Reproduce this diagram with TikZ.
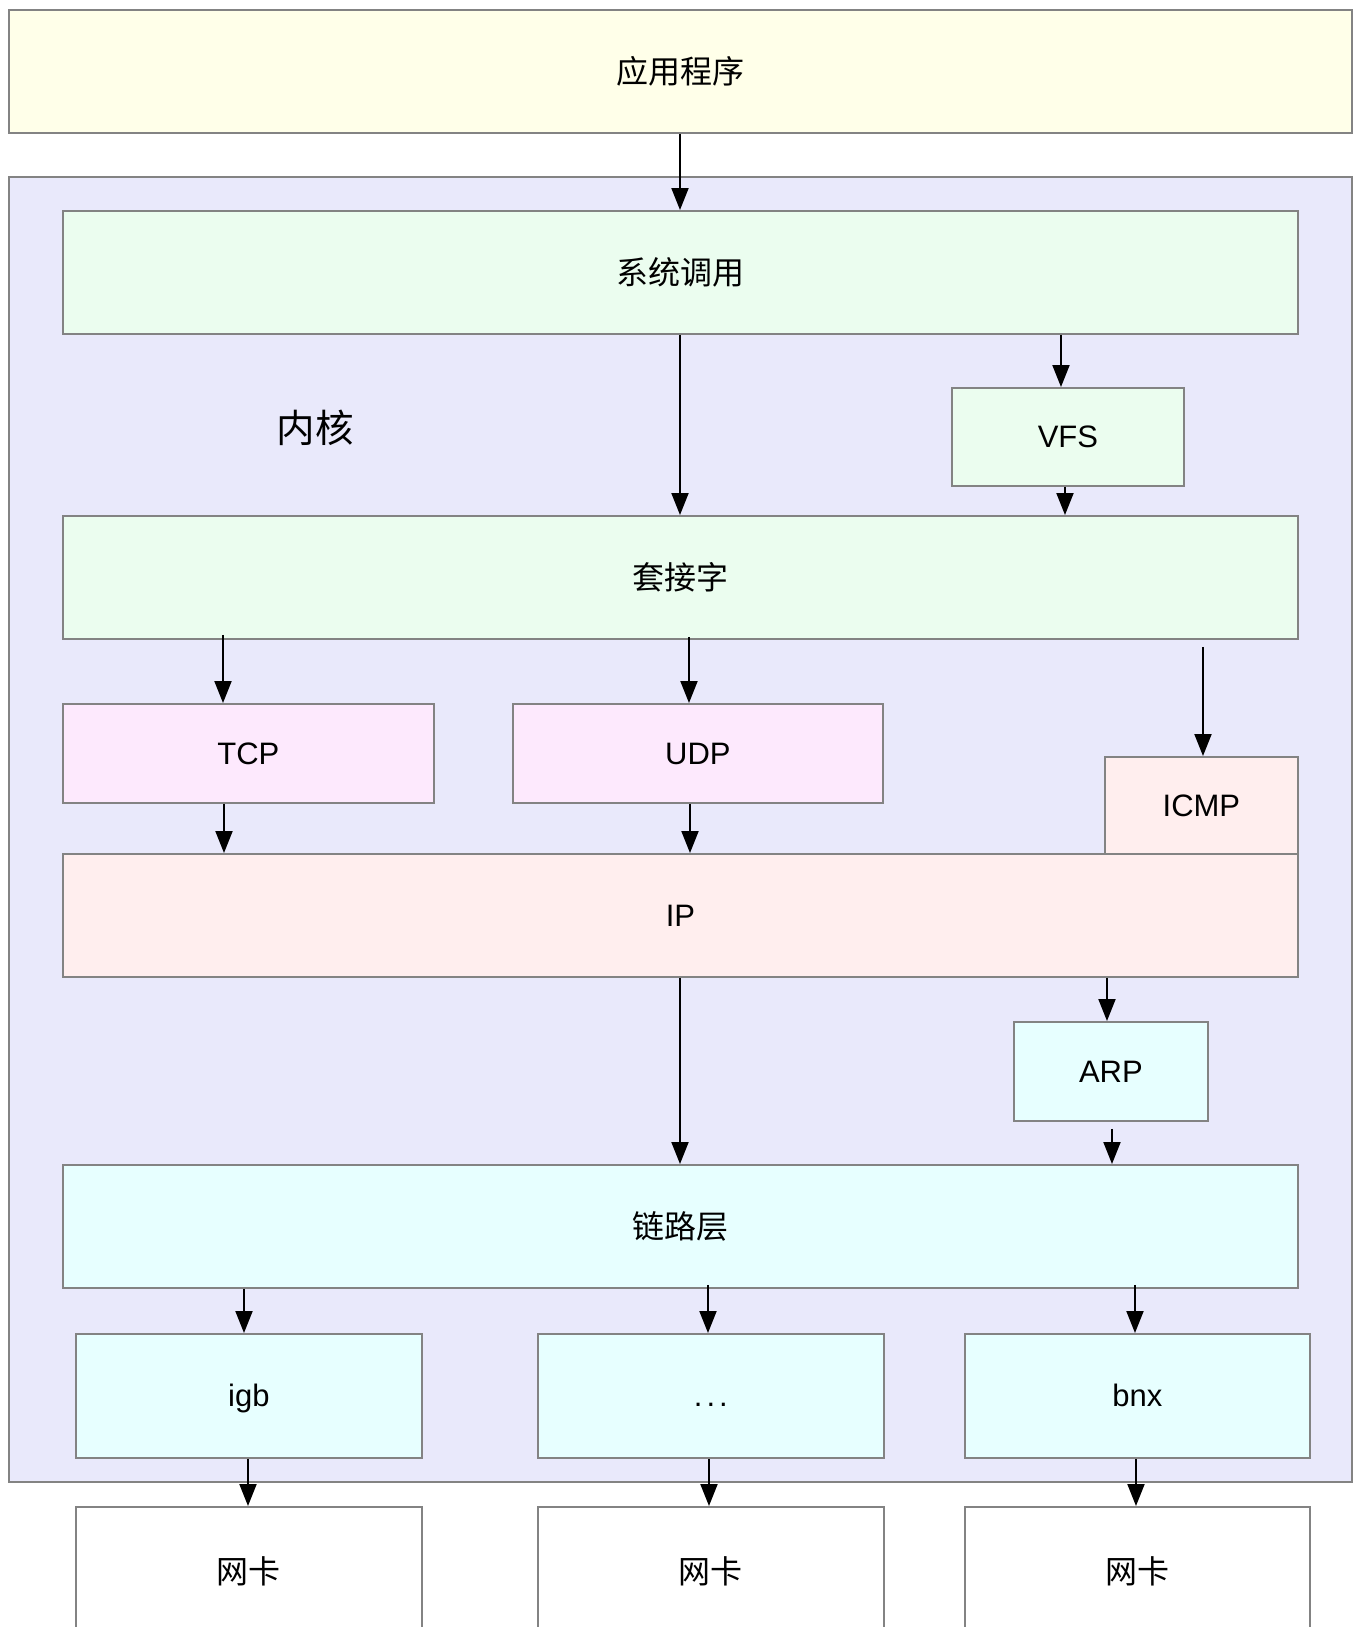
\documentclass[tikz,border=0pt]{standalone}
\usepackage{fontspec}
\setmainfont{Liberation Sans}
\newfontfamily\cjk{Noto Sans CJK SC}
\usetikzlibrary{arrows.meta}
\definecolor{bordergray}{HTML}{838383}
\definecolor{appfill}{HTML}{FFFFE9}
\definecolor{kernfill}{HTML}{E9E9FB}
\definecolor{greenfill}{HTML}{EBFDEF}
\definecolor{pinkfill}{HTML}{FDE9FD}
\definecolor{redfill}{HTML}{FFEEEE}
\definecolor{cyanfill}{HTML}{E7FFFF}
\tikzset{
  box/.style={draw=bordergray, line width=1.8pt, inner sep=0pt, anchor=north west,
    font=\fontsize{31}{37}\selectfont, text height=22pt, text depth=0pt},
  cjkbox/.style={draw=bordergray, line width=1.8pt, inner sep=0pt, anchor=north west,
    font=\cjk\fontsize{32}{38}\selectfont},
  arr/.style={-{Triangle[width=17pt,length=22pt]}, line width=2pt, black},
}
\begin{document}
\begin{tikzpicture}[x=1pt,y=-1pt]
\useasboundingbox (0,0) rectangle (1353,1627);
\fill[white] (0,0) rectangle (1353,1627);
% application
\node[cjkbox, fill=appfill, minimum width=1343pt, minimum height=123pt] (app) at (8,9) {应用程序};
% kernel container
\node[box, fill=kernfill, minimum width=1343pt, minimum height=1305pt] (kern) at (8,176) {};
\node[font=\cjk\fontsize{38.5}{46}\selectfont] (kernlbl) at (315,428) {内核};
% boxes
\node[cjkbox, fill=greenfill, minimum width=1235pt, minimum height=123pt] (sys) at (62,210) {系统调用};
\node[box, fill=greenfill, minimum width=232pt, minimum height=98pt] (vfs) at (951,387) {VFS};
\node[cjkbox, fill=greenfill, minimum width=1235pt, minimum height=123pt] (sock) at (62,515) {套接字};
\node[box, fill=pinkfill, minimum width=371pt, minimum height=99pt] (tcp) at (62,703) {TCP};
\node[box, fill=pinkfill, minimum width=370pt, minimum height=99pt] (udp) at (512,703) {UDP};
\node[box, fill=redfill, minimum width=193pt, minimum height=97pt] (icmp) at (1104,756) {ICMP};
\node[box, fill=redfill, minimum width=1235pt, minimum height=123pt] (ip) at (62,853) {IP};
\node[box, fill=cyanfill, minimum width=194pt, minimum height=99pt] (arp) at (1013,1021) {ARP};
\node[cjkbox, fill=cyanfill, minimum width=1235pt, minimum height=123pt] (link) at (62,1164) {链路层};
\node[box, fill=cyanfill, minimum width=346pt, minimum height=124pt] (igb) at (75,1333) {igb};
\node[box, fill=cyanfill, minimum width=346pt, minimum height=124pt] (dots) at (537,1333) {.\kern4pt.\kern4pt.};
\node[box, fill=cyanfill, minimum width=345pt, minimum height=124pt] (bnx) at (964,1333) {bnx};
\node[cjkbox, fill=white, minimum width=346pt, minimum height=128pt] (nica) at (75,1506) {网卡};
\node[cjkbox, fill=white, minimum width=346pt, minimum height=128pt] (nicb) at (537,1506) {网卡};
\node[cjkbox, fill=white, minimum width=345pt, minimum height=128pt] (nicc) at (964,1506) {网卡};
% arrows
\draw[arr] (app.south -| 680,0) -- (sys.north -| 680,0);
\draw[arr] (sys.south -| 680,0) -- (sock.north -| 680,0);
\draw[arr] (sys.south -| 1061,0) -- (vfs.north -| 1061,0);
\draw[arr] (vfs.south -| 1065,0) -- (sock.north -| 1065,0);
\draw[arr, shorten <=-5pt] (sock.south -| 223,0) -- (tcp.north -| 223,0);
\draw[arr, shorten <=-3pt] (sock.south -| 689,0) -- (udp.north -| 689,0);
\draw[arr, shorten <=7pt] (sock.south -| 1203,0) -- (icmp.north -| 1203,0);
\draw[arr] (tcp.south -| 224,0) -- (ip.north -| 224,0);
\draw[arr] (udp.south -| 690,0) -- (ip.north -| 690,0);
\draw[arr] (ip.south -| 680,0) -- (link.north -| 680,0);
\draw[arr] (ip.south -| 1107,0) -- (arp.north -| 1107,0);
\draw[arr, shorten <=7pt] (arp.south -| 1112,0) -- (link.north -| 1112,0);
\draw[arr] (link.south -| 244,0) -- (igb.north -| 244,0);
\draw[arr, shorten <=-4pt] (link.south -| 708,0) -- (dots.north -| 708,0);
\draw[arr, shorten <=-4pt] (link.south -| 1135,0) -- (bnx.north -| 1135,0);
\draw[arr] (igb.south -| 248,0) -- (nica.north -| 248,0);
\draw[arr] (dots.south -| 709,0) -- (nicb.north -| 709,0);
\draw[arr] (bnx.south -| 1136,0) -- (nicc.north -| 1136,0);
\end{tikzpicture}
\end{document}
